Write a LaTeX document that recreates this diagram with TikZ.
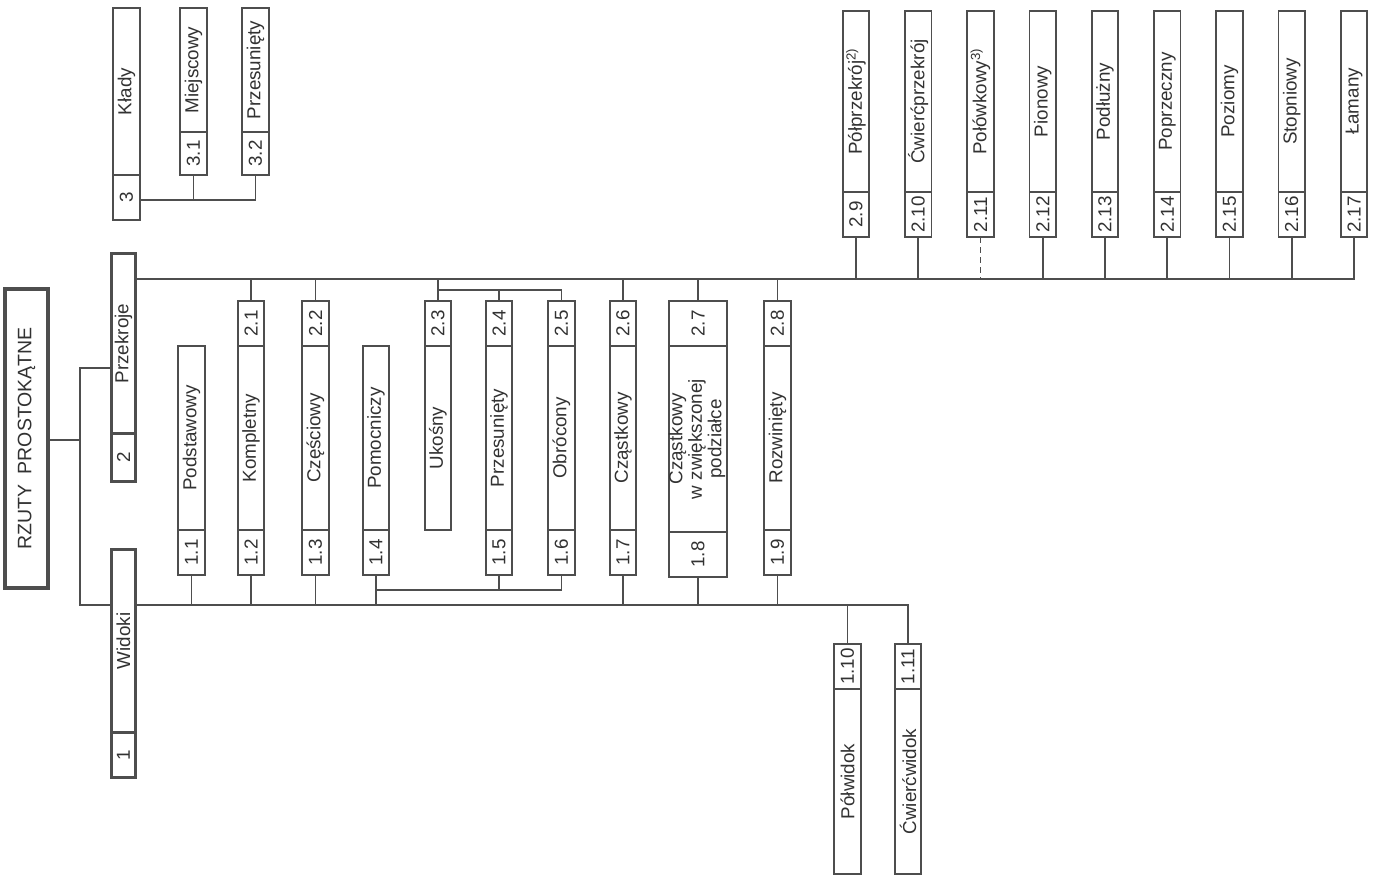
\documentclass[tikz,border=0pt]{standalone}
\usepackage{fontspec}
\setmainfont{Liberation Sans}
\usepackage{graphicx}
\usetikzlibrary{positioning}
\definecolor{ink}{RGB}{78,78,78}
\definecolor{txt}{RGB}{50,50,50}
\newcommand{\vtext}[1]{\rotatebox{90}{#1}}
\tikzset{
	cell/.style={draw=ink, line width=1.8pt, fill=white, inner sep=0pt, outer sep=0pt, minimum width=26.5pt, text=txt, font=\fontsize{18.8}{21}\selectfont},
	numcell/.style={cell, minimum height=45pt},
	head/.style={cell, line width=2.8pt, minimum width=24.5pt},
	bus/.style={ink, line width=2.8pt},
	stem/.style={ink, line width=1.8pt},
	dstem/.style={stem, dash pattern=on 6pt off 4pt},
}

\begin{document}
\begin{tikzpicture}[x=1pt, y=-1pt]
	\useasboundingbox (0,0) rectangle (1374,878);
	% root and the two main groups
	\node[cell, line width=4.5pt, minimum width=43pt, minimum height=299pt, font=\fontsize{19.5}{22}\selectfont] (root) at (26.5,438.5) {\vtext{RZUTY\ \ PROSTOKĄTNE}};
	\node[head, minimum height=180pt, anchor=north] (przek) at (123.5,253.5) {\vtext{Przekroje}};
	\node[head, minimum height=48pt, below=0pt of przek] (n2) {\vtext{2}};
	\node[head, minimum height=183pt, anchor=north] (widoki) at (123.5,549.5) {\vtext{Widoki}};
	\node[head, minimum height=45pt, below=0pt of widoki] (n1) {\vtext{1}};
	\coordinate (fork) at (80,440);
	\draw[bus] (root.east |- fork) -- (fork);
	\draw[bus] (przek.west |- 0,368) -| (fork) |- (widoki.west |- 0,605);

	% Klady
	\node[cell, minimum height=167pt, anchor=north] (klady) at (126.5,8) {\vtext{Kłady}};
	\node[numcell, below=0pt of klady] (n3) {\vtext{3}};
	\node[cell, minimum height=124pt, anchor=north] (miejsc) at (193.5,8) {\vtext{Miejscowy}};
	\node[numcell, minimum height=43pt, below=0pt of miejsc] (n31) {\vtext{3.1}};
	\node[cell, minimum height=124pt, anchor=north] (przes3) at (255.5,8) {\vtext{Przesunięty}};
	\node[numcell, minimum height=43pt, below=0pt of przes3] (n32) {\vtext{3.2}};
	\draw[stem] (n3.east |- 0,200) -| (n32.south);
	\draw[stem] (n31.south) -- (n31.south |- 0,200);

	% sections above the bus
	\foreach \i/\t/\s [count=\k from 0] in {9/Półprzekrój\textsuperscript{2)}/stem, 10/Ćwierćprzekrój/stem, 11/Połówkowy\textsuperscript{3)}/dstem, 12/Pionowy/stem, 13/Podłużny/stem, 14/Poprzeczny/stem, 15/Poziomy/stem, 16/Stopniowy/stem, 17/Łamany/stem}{
		\node[cell, minimum height=181pt, anchor=north] (s\i) at (856+62.25*\k,11) {\vtext{\t}};
		\node[numcell, below=0pt of s\i] (n2\i) {\vtext{2.\i}};
		\draw[\s] (n2\i.south) -- (n2\i.south |- 0,279);
	}
	\draw[bus] (przek.east |- 0,279) -| (n217.south);

	% middle row
	\node[cell, minimum height=184pt, anchor=north] (podst) at (191.5,346) {\vtext{Podstawowy}};
	\node[numcell, below=0pt of podst] (n11) {\vtext{1.1}};
	\node[cell, minimum height=184pt, anchor=north] (kompl) at (251,346) {\vtext{Kompletny}};
	\node[numcell, above=0pt of kompl] (n21) {\vtext{2.1}};
	\node[numcell, below=0pt of kompl] (n12) {\vtext{1.2}};
	\node[cell, minimum height=184pt, anchor=north] (czesc) at (315.5,346) {\vtext{Częściowy}};
	\node[numcell, above=0pt of czesc] (n22) {\vtext{2.2}};
	\node[numcell, below=0pt of czesc] (n13) {\vtext{1.3}};
	\node[cell, minimum height=184pt, anchor=north] (pomoc) at (376,346) {\vtext{Pomocniczy}};
	\node[numcell, below=0pt of pomoc] (n14) {\vtext{1.4}};
	\node[cell, minimum height=184pt, anchor=north] (ukos) at (438,346) {\vtext{Ukośny}};
	\node[numcell, above=0pt of ukos] (n23) {\vtext{2.3}};
	\node[cell, minimum height=184pt, anchor=north] (przes) at (499,346) {\vtext{Przesunięty}};
	\node[numcell, above=0pt of przes] (n24) {\vtext{2.4}};
	\node[numcell, below=0pt of przes] (n15) {\vtext{1.5}};
	\node[cell, minimum height=184pt, anchor=north] (obroc) at (561.5,346) {\vtext{Obrócony}};
	\node[numcell, above=0pt of obroc] (n25) {\vtext{2.5}};
	\node[numcell, below=0pt of obroc] (n16) {\vtext{1.6}};
	\node[cell, minimum height=184pt, anchor=north] (czast) at (623,346) {\vtext{Cząstkowy}};
	\node[numcell, above=0pt of czast] (n26) {\vtext{2.6}};
	\node[numcell, below=0pt of czast] (n17) {\vtext{1.7}};
	\node[cell, minimum height=186pt, minimum width=58pt, anchor=north] (czpod) at (698,346) {\vtext{\def\arraystretch{0.93}\begin{tabular}{@{}c@{}}Cząstkowy\\w zwiększonej\\podziałce\end{tabular}}};
	\node[numcell, minimum width=58pt, above=0pt of czpod] (n27) {\vtext{2.7}};
	\node[numcell, minimum width=58pt, below=0pt of czpod] (n18) {\vtext{1.8}};
	\node[cell, minimum height=184pt, anchor=north] (rozw) at (777.5,346) {\vtext{Rozwinięty}};
	\node[numcell, above=0pt of rozw] (n28) {\vtext{2.8}};
	\node[numcell, below=0pt of rozw] (n19) {\vtext{1.9}};

	\foreach \n in {n21,n22,n23,n26,n27,n28}
		\draw[stem] (\n.north) -- (\n.north |- 0,279);
	\draw[stem] (n23.north |- 0,290) -| (n25.north);
	\draw[stem] (n24.north) -- (n24.north |- 0,290);
	\foreach \n in {n11,n12,n13,n14,n17,n18,n19}
		\draw[stem] (\n.south) -- (\n.south |- 0,605);
	\draw[stem] (n14.south |- 0,590) -| (n16.south);
	\draw[stem] (n15.south) -- (n15.south |- 0,590);

	% views below the bus
	\node[numcell, anchor=north] (n110) at (847.5,644) {\vtext{1.10}};
	\node[cell, minimum height=185pt, below=0pt of n110] (polw) {\vtext{Półwidok}};
	\node[numcell, anchor=north] (n111) at (908,644) {\vtext{1.11}};
	\node[cell, minimum height=185pt, below=0pt of n111] (cwierw) {\vtext{Ćwierćwidok}};
	\draw[bus] (widoki.east |- 0,605) -| (n111.north);
	\draw[stem] (n110.north) -- (n110.north |- 0,605);
\end{tikzpicture}
\end{document}
